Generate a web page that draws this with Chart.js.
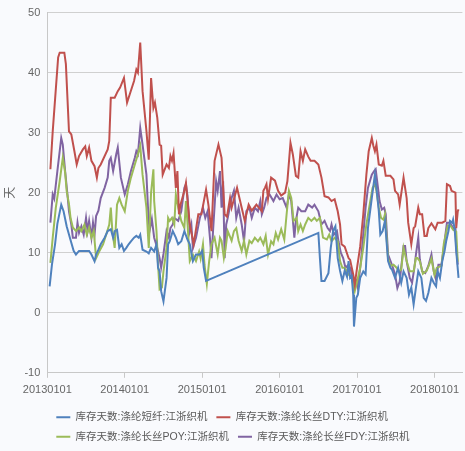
<!DOCTYPE html>
<html>
<head>
<meta charset="utf-8">
<script src="https://cdn.jsdelivr.net/npm/chart.js@4.4.1/dist/chart.umd.min.js"></script>
<style>
html,body{margin:0;padding:0;background:#f9fafd;}
#wrap{width:465px;height:451px;}
</style>
</head>
<body>
<div id="wrap"><canvas id="c" width="465" height="451"></canvas></div>
<script>
const seriesNames = ['库存天数:涤纶短纤:江浙织机','库存天数:涤纶长丝DTY:江浙织机','库存天数:涤纶长丝POY:江浙织机','库存天数:涤纶长丝FDY:江浙织机'];
const yearTicks = [2013,2014,2015,2016,2017,2018];
const tickLabels = ['20130101','20140101','20150101','20160101','20170101','20180101'];
const yTicks = [-10,0,10,20,30,40,50];

// [time (decimal year), days]
const psfPoints = [[2013.03,4.4],[2013.06,8],[2013.10,11.4],[2013.13,14.8],[2013.18,18],[2013.21,16.9],[2013.25,14.4],[2013.30,12.1],[2013.34,10.3],[2013.37,9.7],[2013.41,10.3],[2013.48,10.3],[2013.54,10.3],[2013.57,9.7],[2013.61,8.6],[2013.63,9.7],[2013.66,10.5],[2013.69,11.4],[2013.74,12.5],[2013.78,13.6],[2013.82,13.9],[2013.85,12.5],[2013.87,13.6],[2013.90,13.8],[2013.93,10.8],[2013.96,11.4],[2013.99,10.3],[2014.02,10.8],[2014.05,11.4],[2014.08,11.9],[2014.12,12.5],[2014.15,12.8],[2014.18,12.5],[2014.20,13],[2014.23,10.5],[2014.28,10.2],[2014.31,9.9],[2014.34,10.8],[2014.38,10.2],[2014.41,11.4],[2014.43,7.5],[2014.45,6.9],[2014.47,3.6],[2014.50,1.9],[2014.54,5.8],[2014.56,11.4],[2014.58,11.9],[2014.62,13.6],[2014.66,12.5],[2014.69,11.4],[2014.73,11.9],[2014.77,13.6],[2014.81,12.2],[2014.84,11.4],[2014.88,8.6],[2014.92,9.7],[2014.97,9.7],[2015.00,10.3],[2015.02,7.5],[2015.05,5.3],[2016.50,13.3],[2016.52,9.1],[2016.54,5.3],[2016.58,5.3],[2016.63,6.6],[2016.66,10.8],[2016.69,13.6],[2016.72,14.4],[2016.75,9.1],[2016.78,7],[2016.81,5.3],[2016.84,7],[2016.87,6],[2016.89,8.6],[2016.91,5.8],[2016.93,6.1],[2016.95,3],[2016.96,-2.3],[2016.99,2.5],[2017.01,3],[2017.04,5.8],[2017.08,6.9],[2017.11,6.4],[2017.14,14.1],[2017.19,19.1],[2017.23,23],[2017.25,20.8],[2017.28,17],[2017.30,13],[2017.33,13.6],[2017.36,15.3],[2017.40,8.6],[2017.43,7.5],[2017.45,7.2],[2017.49,5.8],[2017.53,7.5],[2017.57,5],[2017.60,6.9],[2017.64,5.8],[2017.67,3],[2017.70,4.2],[2017.73,1.4],[2017.76,4.2],[2017.79,6.9],[2017.83,5.8],[2017.86,2.5],[2017.89,2],[2017.92,3.3],[2017.96,5.8],[2017.99,5],[2018.02,4.4],[2018.04,6.9],[2018.07,5.8],[2018.10,8.6],[2018.13,10.3],[2018.15,11.9],[2018.18,13.6],[2018.20,15.3],[2018.23,15],[2018.24,15.5],[2018.26,13.9],[2018.28,10.3],[2018.31,5.8]];

const dtyPoints = [[2013.04,23.9],[2013.07,30.2],[2013.14,42.5],[2013.16,43.3],[2013.22,43.3],[2013.24,41.4],[2013.28,30.2],[2013.31,29.7],[2013.35,26.9],[2013.38,24.7],[2013.41,26.1],[2013.46,27.2],[2013.49,27.7],[2013.51,26.1],[2013.54,27.5],[2013.57,25.3],[2013.61,24.4],[2013.64,22.5],[2013.66,24.1],[2013.69,24.7],[2013.78,27.2],[2013.80,28.6],[2013.82,35.8],[2013.87,35.8],[2013.91,36.9],[2013.94,37.5],[2013.99,39.1],[2014.03,35],[2014.07,36.6],[2014.12,38.6],[2014.15,40.5],[2014.17,40],[2014.20,45],[2014.23,36.9],[2014.28,30.3],[2014.31,25.5],[2014.34,39.1],[2014.37,34.1],[2014.39,35],[2014.42,32.5],[2014.45,28],[2014.47,27.8],[2014.49,23],[2014.54,24.7],[2014.57,24.1],[2014.59,26.1],[2014.61,25.3],[2014.63,26.6],[2014.66,20.8],[2014.68,23.6],[2014.70,16.4],[2014.72,18],[2014.77,20.3],[2014.79,21.6],[2014.84,14.7],[2014.89,11.4],[2014.95,16.4],[2014.99,16.4],[2015.05,20.5],[2015.08,18],[2015.12,13.6],[2015.16,25.3],[2015.21,28],[2015.25,25.8],[2015.29,16.4],[2015.32,16],[2015.36,19.1],[2015.38,17.5],[2015.45,20.8],[2015.51,17.5],[2015.55,15.3],[2015.60,18],[2015.64,17],[2015.70,18],[2015.77,16.9],[2015.79,20.3],[2015.81,20.8],[2015.83,21.4],[2015.85,19],[2015.89,22.5],[2015.94,22],[2015.98,20.3],[2016.02,19.5],[2016.07,20],[2016.10,21.9],[2016.14,28.3],[2016.17,26.4],[2016.21,22.8],[2016.24,22.5],[2016.27,26.9],[2016.30,25.3],[2016.33,27.2],[2016.37,26],[2016.40,25.3],[2016.45,25.3],[2016.50,24.7],[2016.54,22.5],[2016.58,19.4],[2016.63,19.2],[2016.67,18.6],[2016.71,18.9],[2016.75,16.9],[2016.78,14.7],[2016.80,11.4],[2016.84,11],[2016.89,9.1],[2016.91,8.8],[2016.95,6.4],[2016.97,4.7],[2017.00,7.5],[2017.04,11],[2017.08,16.4],[2017.12,23],[2017.15,26.9],[2017.19,29.1],[2017.21,27.8],[2017.23,26.9],[2017.25,28],[2017.28,24.7],[2017.32,24.5],[2017.34,25.3],[2017.37,22.8],[2017.43,22.8],[2017.47,22.2],[2017.49,20.3],[2017.53,19.7],[2017.55,18],[2017.60,22.5],[2017.64,19.1],[2017.66,15],[2017.70,11.4],[2017.73,14.1],[2017.75,14.4],[2017.79,17.5],[2017.81,16.4],[2017.84,16.4],[2017.87,12.8],[2017.90,12.8],[2017.92,14.1],[2017.96,14.9],[2018.01,13.9],[2018.04,15],[2018.10,15],[2018.14,15.3],[2018.16,21.4],[2018.20,21.1],[2018.22,20.3],[2018.27,20],[2018.28,14.1],[2018.30,16.9],[2018.31,17.2]];

const poyPoints = [[2013.04,8.3],[2013.07,12.5],[2013.11,17.5],[2013.16,21.9],[2013.20,25.8],[2013.23,23.4],[2013.25,20.3],[2013.28,18.1],[2013.30,15.8],[2013.33,14.2],[2013.37,13.6],[2013.41,14.2],[2013.44,13.6],[2013.48,14.7],[2013.51,13],[2013.54,14.2],[2013.57,12.5],[2013.60,13.6],[2013.63,9.1],[2013.67,10.2],[2013.72,11.4],[2013.76,13],[2013.80,14.7],[2013.82,17.5],[2013.84,13.6],[2013.87,10.8],[2013.90,18],[2013.93,19.1],[2013.96,18],[2014.00,16.9],[2014.04,20.3],[2014.08,22.5],[2014.13,24.7],[2014.17,26.4],[2014.20,27.8],[2014.23,23],[2014.28,17.5],[2014.31,10.8],[2014.34,20],[2014.37,23.9],[2014.38,18.6],[2014.41,13.6],[2014.43,8],[2014.45,3.9],[2014.48,4.2],[2014.50,6.9],[2014.54,10.8],[2014.56,15.8],[2014.58,15.3],[2014.61,15.8],[2014.64,14.7],[2014.66,19.7],[2014.69,17.5],[2014.73,15.3],[2014.77,14.1],[2014.79,18.6],[2014.81,15],[2014.84,8.6],[2014.88,9.7],[2014.92,8.6],[2014.96,10.2],[2014.98,9],[2015.01,11.4],[2015.03,8],[2015.06,4.8],[2015.09,8.6],[2015.12,11.4],[2015.16,12.5],[2015.20,9.7],[2015.23,12.5],[2015.25,12],[2015.28,9.1],[2015.30,10.5],[2015.33,13.6],[2015.38,12],[2015.41,13.6],[2015.44,14.1],[2015.47,12],[2015.51,10.3],[2015.54,12],[2015.57,9.7],[2015.61,12],[2015.64,11.6],[2015.68,12.5],[2015.72,11.9],[2015.75,12.5],[2015.79,11.4],[2015.82,12.8],[2015.85,9.7],[2015.89,11.9],[2015.92,11.4],[2015.95,13.3],[2015.98,12.2],[2016.02,13.9],[2016.06,12.2],[2016.09,16.4],[2016.12,20.3],[2016.15,19.1],[2016.18,15.3],[2016.22,15.8],[2016.24,13.6],[2016.27,14.7],[2016.30,13.6],[2016.33,14.7],[2016.37,15.8],[2016.41,15.3],[2016.45,15.8],[2016.48,15.3],[2016.52,15.8],[2016.56,12.5],[2016.61,12.2],[2016.64,13],[2016.67,11.9],[2016.71,12.5],[2016.75,11.9],[2016.78,8.6],[2016.81,7.5],[2016.84,7.5],[2016.89,6.4],[2016.93,5.8],[2016.97,3.6],[2017.00,5.2],[2017.04,7.5],[2017.08,10.8],[2017.12,14.7],[2017.17,18.6],[2017.20,20.8],[2017.23,21.4],[2017.25,20.3],[2017.28,17.5],[2017.31,15.8],[2017.34,15.5],[2017.36,16.4],[2017.40,9.1],[2017.43,7.8],[2017.47,8],[2017.51,7.5],[2017.54,6.9],[2017.57,7.2],[2017.60,10.8],[2017.64,8.6],[2017.68,6.9],[2017.73,6.9],[2017.76,9.1],[2017.78,9.1],[2017.81,8.6],[2017.85,6.5],[2017.90,7],[2017.96,9],[2018.00,6.3],[2018.03,7.5],[2018.09,7.8],[2018.12,11.5],[2018.17,14.5],[2018.20,14.6],[2018.24,13.8],[2018.28,13.5],[2018.30,8.5]];

const fdyPoints = [[2013.04,15],[2013.07,19.7],[2013.09,19],[2013.13,23.6],[2013.18,29.1],[2013.20,28],[2013.23,23.6],[2013.26,19.7],[2013.28,16.9],[2013.31,14.7],[2013.33,12.5],[2013.37,12.5],[2013.39,15],[2013.41,13.3],[2013.44,14.4],[2013.47,13],[2013.50,15.8],[2013.52,13.6],[2013.54,15.3],[2013.57,12.5],[2013.59,15],[2013.61,13],[2013.63,16.1],[2013.66,17],[2013.69,19.1],[2013.74,20.8],[2013.78,22.5],[2013.80,25.3],[2013.82,25.8],[2013.85,23.6],[2013.89,26.4],[2013.91,27.5],[2013.95,22.5],[2014.00,19.7],[2014.04,21.4],[2014.08,23.6],[2014.13,25.8],[2014.15,26.9],[2014.17,26.4],[2014.20,30.8],[2014.23,28],[2014.28,23],[2014.30,17.5],[2014.32,13.6],[2014.35,15.6],[2014.38,12.5],[2014.42,10.8],[2014.45,9.1],[2014.47,7.5],[2014.50,9.8],[2014.54,13.6],[2014.57,12.5],[2014.59,14.1],[2014.62,14.7],[2014.64,15.8],[2014.69,15.3],[2014.73,16.9],[2014.77,20.8],[2014.79,21.4],[2014.81,19.5],[2014.84,13.6],[2014.86,14.7],[2014.88,10.8],[2014.92,12.5],[2014.97,15.8],[2015.01,17.5],[2015.04,15.8],[2015.07,16.9],[2015.10,12.5],[2015.12,9.1],[2015.14,13.6],[2015.18,21.9],[2015.20,20.3],[2015.23,23.6],[2015.25,17.5],[2015.27,21.9],[2015.29,9.1],[2015.31,14.7],[2015.33,15.8],[2015.38,19.1],[2015.41,20.3],[2015.44,15.8],[2015.47,17.5],[2015.51,14.7],[2015.54,11.9],[2015.57,16.9],[2015.61,17.5],[2015.64,15.8],[2015.68,17.5],[2015.72,16.9],[2015.75,18.6],[2015.77,16.4],[2015.80,17.5],[2015.83,19.1],[2015.87,19.7],[2015.92,18.6],[2015.96,19.7],[2016.00,18.9],[2016.04,19.1],[2016.09,17.5],[2016.12,19.7],[2016.15,18.6],[2016.19,12.5],[2016.21,15.3],[2016.24,17.5],[2016.28,16.9],[2016.33,16.9],[2016.37,18],[2016.42,17.5],[2016.45,18],[2016.50,16.9],[2016.54,14.7],[2016.58,15.3],[2016.62,14.1],[2016.65,13.6],[2016.67,14.7],[2016.70,13],[2016.74,13.6],[2016.76,11.9],[2016.79,10],[2016.82,9.1],[2016.85,7.5],[2016.89,8],[2016.92,7.2],[2016.94,5.8],[2016.96,4.1],[2016.99,5.2],[2017.01,4.1],[2017.05,8.6],[2017.08,13],[2017.11,17.5],[2017.14,20.8],[2017.19,23],[2017.22,23.6],[2017.24,23.9],[2017.27,20.8],[2017.29,18.6],[2017.32,17.2],[2017.35,17.5],[2017.37,16.4],[2017.40,9.7],[2017.45,8],[2017.49,6.4],[2017.52,4.1],[2017.55,5.2],[2017.60,11.1],[2017.62,11.1],[2017.64,8.6],[2017.68,5.8],[2017.71,5],[2017.74,7.5],[2017.76,9.7],[2017.79,12.5],[2017.81,8.9],[2017.84,6.9],[2017.88,6.6],[2017.92,7.8],[2017.96,9.7],[2017.99,6.9],[2018.02,5.5],[2018.05,8],[2018.09,8],[2018.13,11.9],[2018.16,15],[2018.20,15],[2018.24,14.1],[2018.27,14.1],[2018.28,10.8],[2018.30,8]];

const colors = ['#4f81bd','#c0504d','#9bbb59','#8064a2'];
const allPoints = [psfPoints, dtyPoints, poyPoints, fdyPoints];

const datasets = allPoints.map((pts, i) => ({
  label: seriesNames[i],
  data: pts.map(p => ({x: p[0], y: p[1]})),
  borderColor: colors[i],
  backgroundColor: colors[i],
  borderWidth: 2,
  pointRadius: 0,
  tension: 0,
  fill: false
}));

const FONT = 'Liberation Sans, Arial, "Noto Sans CJK SC", sans-serif';

// trims the legend's reserved height so the plot area extends lower
const legendTrim = {
  id: 'legendTrim',
  afterInit(chart) {
    const lg = chart.legend;
    if (!lg) return;
    const orig = lg.fit.bind(lg);
    lg.fit = function () { orig(); this.height -= 1; };
  }
};

new Chart(document.getElementById('c'), {
  type: 'line',
  data: { datasets },
  plugins: [legendTrim],
  options: {
    responsive: false,
    animation: false,
    layout: { padding: { top: 0, right: 0, left: 0, bottom: 0 } },
    plugins: {
      legend: {
        position: 'bottom',
        fullSize: false,
        align: 'start',
        labels: {
          boxWidth: 14,
          boxHeight: 2,
          padding: 9,
          color: '#595959',
          font: { size: 10.5, family: FONT },
          generateLabels: (chart) => {
            const items = Chart.defaults.plugins.legend.labels.generateLabels(chart);
            items.forEach(it => { it.lineWidth = 0; it.strokeStyle = 'rgba(0,0,0,0)'; });
            return items;
          }
        }
      },
      tooltip: { enabled: false }
    },
    scales: {
      x: {
        type: 'linear',
        min: 2013,
        max: 2018.36,
        afterBuildTicks: (s) => { s.ticks = yearTicks.map(v => ({ value: v })); },
        ticks: {
          autoSkip: false,
          maxRotation: 0,
          color: '#666666',
          font: { size: 11, family: FONT },
          padding: 6,
          callback: (v) => tickLabels[yearTicks.indexOf(v)]
        },
        grid: { drawOnChartArea: false, drawTicks: true, tickLength: 5, color: '#c8c8c8' },
        border: { display: true, color: '#c8c8c8', width: 1 }
      },
      y: {
        min: -10,
        max: 50,
        afterBuildTicks: (s) => { s.ticks = yTicks.map(v => ({ value: v })); },
        title: { display: true, text: '天', color: '#666666', font: { size: 12, family: FONT }, padding: { top: 3, bottom: 0 } },
        ticks: {
          color: '#666666',
          font: { size: 11, family: FONT, lineHeight: 1 },
          padding: 7
        },
        grid: { color: '#d0d0d0', drawTicks: false, lineWidth: 1 },
        border: { display: true, color: '#c8c8c8', width: 1 }
      }
    }
  }
});
</script>
</body>
</html>
